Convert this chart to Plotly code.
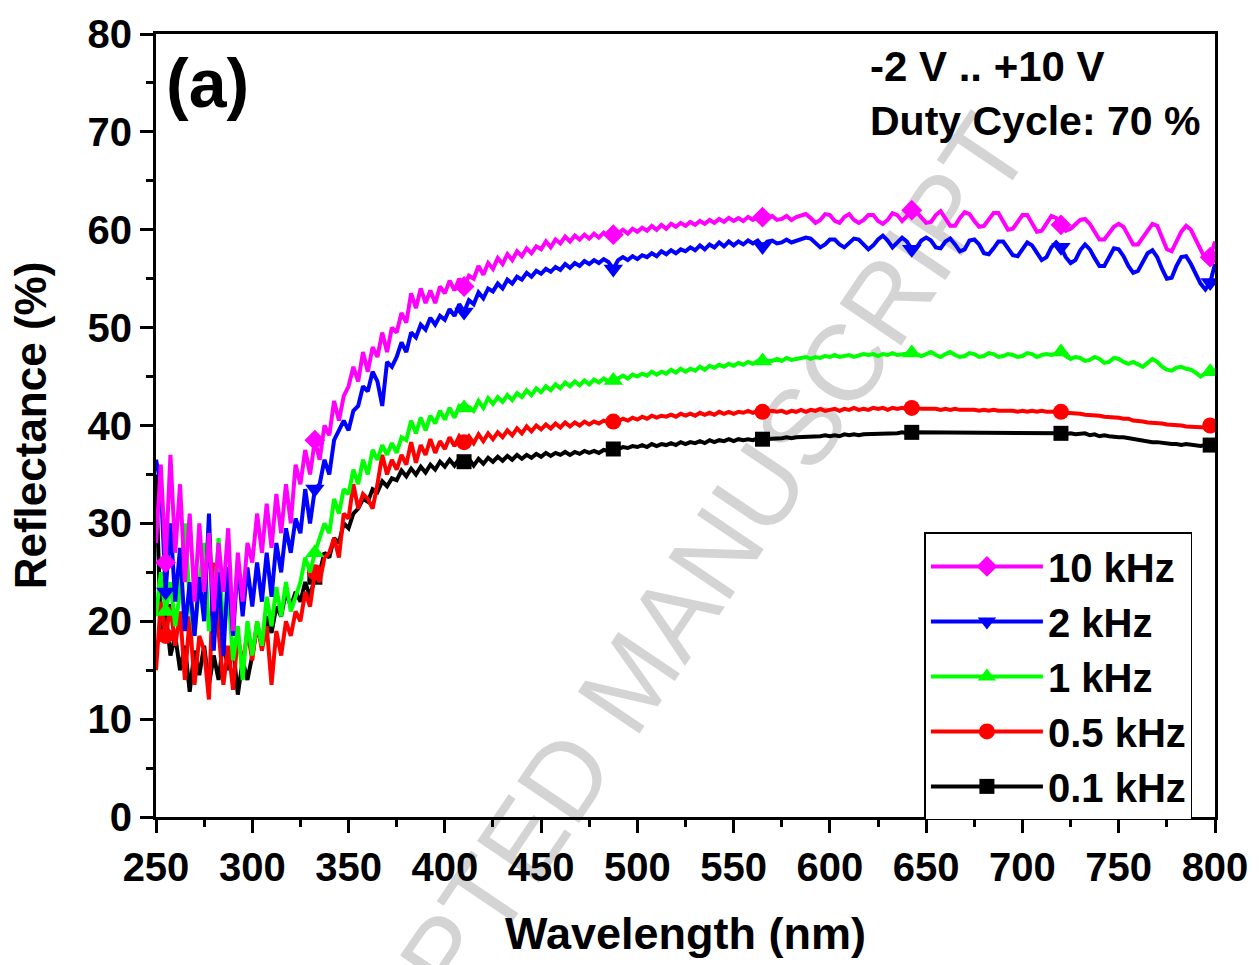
import numpy as np
import plotly.graph_objects as go

# Wavelength sampling grid (nm)
wavelength = np.arange(250, 800.01, 2.5)

series_names = ["0.1 kHz", "0.5 kHz", "1 kHz", "2 kHz", "10 kHz"]

r_0p1k = [
    35, 19, 21, 16.5, 18.5, 15, 17.5, 12.8, 17, 14.5,
    17.5, 13.5, 16.5, 14, 18, 15, 17.5, 12.5, 16, 14,
    16.5, 19.5, 17.5, 20.5, 18.8, 21.5, 20.5, 23, 21.5, 23,
    22, 24, 22.5, 24.5, 25, 27, 26.5, 28.5, 28, 30,
    29.5, 31, 31.5, 32.5, 32.2, 33.5, 33.2, 34.3, 33.8, 34.6,
    34.4, 35.4, 34.8, 35.6, 35.0, 35.8, 35.2, 36.0, 35.5, 36.3,
    35.8, 36.5, 35.9, 36.6, 36.3, 36.6, 35.9, 36.6, 36.1, 36.7,
    36.3, 36.8, 36.4, 36.9, 36.5, 37.0, 36.6, 37.0, 36.7, 37.1,
    36.8, 37.2, 36.9, 37.2, 37.0, 37.3, 37.0, 37.3, 37.1, 37.4,
    37.2, 37.4, 37.2, 37.5, 37.4, 37.6, 37.6, 37.8, 37.7, 37.9,
    37.8, 38.0, 37.8, 38.1, 37.9, 38.1, 38.0, 38.2, 38.0, 38.3,
    38.1, 38.3, 38.2, 38.4, 38.2, 38.5, 38.3, 38.5, 38.4, 38.6,
    38.4, 38.6, 38.5, 38.6, 38.5, 38.7, 38.6, 38.6, 38.7, 38.6,
    38.7, 38.8, 38.7, 38.8, 38.8, 38.9, 38.8, 38.9, 38.9, 39.0,
    38.9, 39.0, 38.9, 39.1, 39.0, 39.1, 39.0, 39.1, 39.1, 39.2,
    39.1, 39.2, 39.1, 39.2, 39.2, 39.3, 39.2, 39.3, 39.3, 39.2,
    39.3, 39.2, 39.3, 39.2, 39.3, 39.2, 39.3, 39.2, 39.3, 39.2,
    39.3, 39.2, 39.3, 39.3, 39.2, 39.3, 39.2, 39.3, 39.3, 39.2,
    39.3, 39.2, 39.3, 39.2, 39.2, 39.3, 39.2, 39.2, 39.2, 39.1,
    39.2, 39.1, 39.1, 39.2, 39.0, 39.1, 38.9, 39.0, 38.9, 38.8,
    38.8, 38.8, 38.7, 38.6, 38.6, 38.5, 38.4, 38.3, 38.3, 38.2,
    38.2, 38.1, 38.1, 38.0, 38.1, 38.0, 38.0, 37.9, 38.0, 38.0,
    37.9,
]

r_0p5k = [
    15, 22, 18.5, 21.5, 17.5, 21, 14, 20.5, 13.5, 18.5,
    17, 12, 26, 19, 13.5, 17.5, 13, 18.5, 15.5, 19,
    16, 20, 17, 19.5, 13.5, 19, 16.5, 20, 18.5, 21,
    20, 23, 21.5, 25, 24, 26.5, 27, 28.5, 26.5, 31,
    30.5, 34, 31.5, 33, 32.5, 31.5, 34, 37, 35, 36.5,
    35.5, 37.0, 36.0, 38.3, 36.2, 38.0, 37.0, 38.6, 37.2, 38.4,
    37.6, 38.8, 37.9, 38.9, 38.3, 38.9, 38.2, 39.1, 38.4, 39.2,
    38.6, 39.3, 38.8, 39.5, 39.0, 39.7, 39.2, 39.9, 39.4, 40.0,
    39.6, 40.1, 39.7, 40.2, 39.8, 40.3, 39.9, 40.3, 40.0, 40.4,
    40.1, 40.4, 40.2, 40.5, 40.3, 40.4, 40.4, 40.7, 40.5, 40.8,
    40.6, 40.9, 40.7, 41.0, 40.8, 41.0, 40.9, 41.1, 40.9, 41.2,
    41.0, 41.2, 41.0, 41.3, 41.1, 41.3, 41.1, 41.4, 41.2, 41.4,
    41.2, 41.4, 41.3, 41.5, 41.3, 41.5, 41.4, 41.4, 41.5, 41.4,
    41.5, 41.3, 41.5, 41.4, 41.6, 41.4, 41.6, 41.5, 41.7, 41.5,
    41.6, 41.7, 41.5, 41.7, 41.6, 41.8, 41.6, 41.7, 41.6, 41.8,
    41.7, 41.8, 41.6, 41.8, 41.7, 41.8, 41.7, 41.8, 41.8, 41.7,
    41.7, 41.8, 41.7, 41.6, 41.7, 41.6, 41.7, 41.6, 41.6, 41.7,
    41.6, 41.5, 41.6, 41.5, 41.6, 41.5, 41.5, 41.6, 41.5, 41.4,
    41.5, 41.4, 41.5, 41.4, 41.5, 41.4, 41.4, 41.5, 41.4, 41.3,
    41.3, 41.2, 41.2, 41.1, 41.1, 41.0, 41.0, 40.9, 40.9, 40.8,
    40.8, 40.7, 40.7, 40.5, 40.5, 40.4, 40.3, 40.3, 40.2, 40.2,
    40.1, 40.1, 40.0, 40.0, 39.9, 39.9, 39.8, 39.9, 39.8, 40.0,
    40.0,
]

r_1k = [
    20.5, 25, 21, 24, 19.5, 23, 30, 22, 18.5, 24,
    28, 19, 21, 28.5, 18.5, 23, 16, 19.5, 14, 20,
    16.5, 20, 17.5, 22.5, 19.5, 23.5, 20.5, 24, 21, 22.5,
    24, 26.5, 25, 27, 28.5, 30, 29, 32.5, 31, 33.5,
    33, 35.5, 34, 36.5, 35, 37.5, 36.5, 38, 37, 38.2,
    37.2, 38.8, 38.5, 40.5, 39.2, 40.8, 39.5, 41.0, 40.2, 41.5,
    40.6, 41.8, 40.8, 42.0, 41.8, 41.9, 41.5, 42.5, 41.8, 42.8,
    42.2, 42.9, 42.4, 43.1, 42.6, 43.3, 42.9, 43.6, 43.1, 43.8,
    43.4, 44.0, 43.6, 44.2, 43.8, 44.4, 44.0, 44.5, 44.1, 44.6,
    44.2, 44.7, 44.4, 44.8, 44.5, 44.6, 44.8, 45.1, 44.8, 45.2,
    45.0, 45.3, 45.1, 45.5, 45.2, 45.5, 45.3, 45.7, 45.4, 45.8,
    45.5, 45.8, 45.6, 46.0, 45.7, 46.1, 45.9, 46.2, 46.0, 46.3,
    46.1, 46.4, 46.2, 46.5, 46.3, 46.6, 46.6, 46.5, 46.6, 46.8,
    46.6, 46.9, 46.7, 46.8, 46.9, 47.0, 46.8, 47.0, 46.9, 47.1,
    47.0, 47.2, 47.0, 47.1, 47.2, 47.0, 47.1, 47.3, 47.2, 47.3,
    47.1, 47.3, 47.2, 47.4, 47.2, 47.3, 47.4, 47.4, 47.3, 47.1,
    47.3, 47.5, 47.2, 47.0, 47.3, 47.5, 47.2, 47.0, 47.1, 47.4,
    47.3, 47.0, 47.1, 47.4, 47.3, 47.0, 47.1, 47.3, 47.2, 47.0,
    47.1, 47.4, 47.3, 47.0, 47.2, 47.3, 47.2, 47.4, 47.5, 47.1,
    46.8, 47.0, 46.9, 46.6, 46.7, 47.0, 46.8, 46.4, 46.5, 46.9,
    46.8, 46.5, 46.3, 46.5, 46.2, 46.0, 46.4, 46.8, 46.5, 46.0,
    45.7, 45.6, 45.9, 46.0, 45.8, 45.7, 45.4, 45.0, 45.3, 45.5,
    45.7,
]

r_2k = [
    36.5, 34, 23, 30, 22, 27.5, 19, 24, 18.5, 24.5,
    20, 31, 17, 25, 16.5, 25.5, 18.5, 26, 20.5, 25.5,
    21.5, 26, 22, 27, 22.5, 28, 25, 29.5, 27, 30.5,
    29, 33.5, 30, 33.5, 34, 36.5, 35, 38.5, 39.5, 40.5,
    39.5, 41.5, 42, 44, 43.5, 45.5, 44.5, 42, 46.5, 46,
    47, 48.5, 47.5, 49.5, 49, 50.3, 49.8, 51, 50.3, 51.2,
    50.8, 51.9, 51.2, 52.4, 51.6, 52.8, 52.4, 53.6, 53.0, 54.0,
    53.7, 54.5, 54.0, 54.9, 54.5, 55.2, 54.9, 55.6, 55.2, 55.8,
    55.5, 56.0, 55.7, 56.2, 55.9, 56.5, 56.1, 56.6, 56.3, 56.8,
    56.5, 56.9, 56.6, 57.0, 56.7, 56.0, 56.9, 57.2, 56.9, 57.3,
    57.0, 57.4, 57.2, 57.6, 57.3, 57.8, 57.5, 57.9, 57.6, 58.0,
    57.8, 58.2, 57.9, 58.4, 58.0, 58.5, 58.2, 58.7, 58.3, 58.8,
    58.4, 58.8, 58.5, 58.9, 58.6, 58.9, 58.3, 58.8, 58.9, 58.6,
    58.7, 59.0, 58.7, 58.9, 59.0, 59.2, 59.1, 58.6, 58.2, 58.5,
    59.0, 59.0, 58.5, 58.2, 58.6, 59.1, 59.0, 58.5, 58.0, 58.4,
    59.0, 59.4, 58.9, 58.2, 58.7, 59.2, 58.8, 58.0, 58.2, 58.9,
    59.2, 58.9, 58.2, 58.1, 58.8, 59.1, 58.5, 57.8, 58.0, 58.9,
    59.0, 58.5, 57.6, 57.5, 58.1, 58.8, 58.8, 58.1, 57.4, 57.3,
    58.0, 58.7, 58.4, 57.6, 56.9, 57.2, 58.2, 58.7, 58.2, 57.2,
    56.6, 56.9, 57.9, 58.5, 58.0, 57.1, 56.3, 56.3, 57.2, 58.1,
    58.0, 57.3, 56.3, 55.6, 55.8, 56.8, 57.6, 57.9, 57.2, 56.0,
    55.0, 55.1, 56.3, 57.2, 57.3, 56.5, 55.4, 54.5, 53.9, 54.6,
    56.5,
]

r_10k = [
    28, 36, 26, 37, 27, 34, 24, 31, 22, 30,
    23, 29, 21, 28, 23, 29.5, 19, 27, 22, 28,
    26, 31, 27, 32, 27.5, 33, 29, 34, 30, 36,
    34, 37.5, 35, 38.5, 36.5, 40, 39, 42.5, 40.5, 43,
    44, 46, 44.5, 47.5, 45.5, 48, 47, 49.5, 47.5, 50,
    49.5, 51.5, 50.5, 53.5, 52, 54, 52.5, 53.8, 52.5, 54.2,
    53.5, 54.8, 53.8, 55, 54.2, 55.3, 55, 56.3, 55.4, 56.6,
    56, 57.1, 56.5, 57.5, 56.9, 57.8, 57.3, 58.1, 57.6, 58.3,
    58, 58.8, 58.2, 59.0, 58.6, 59.3, 58.8, 59.4, 59.0, 59.5,
    59.1, 59.6, 59.2, 59.7, 59.3, 59.5, 59.6, 60.0, 59.6, 60.1,
    59.8, 60.2, 59.9, 60.4, 60.0, 60.5, 60.1, 60.6, 60.3, 60.7,
    60.4, 60.8, 60.5, 60.9, 60.6, 61.0, 60.7, 61.1, 60.8, 61.2,
    60.9, 61.2, 60.9, 61.3, 61.0, 61.3, 61.3, 61.1, 61.4, 61.0,
    61.1, 61.4, 61.0, 61.3, 61.4, 61.6, 61.2, 60.7, 61.0, 61.6,
    61.5, 60.9, 60.7, 61.3, 61.6, 61.0, 60.7, 61.0, 61.5, 61.5,
    60.9, 60.6, 61.0, 61.7, 61.5, 60.9, 61.4, 62.0, 61.8, 61.2,
    60.7, 60.8, 61.5, 61.9, 61.2, 60.4, 60.4, 61.2, 61.8, 61.6,
    60.9, 60.3, 60.4, 61.0, 61.7, 61.7, 60.8, 60.0, 60.1, 60.8,
    61.5, 61.5, 60.6, 59.8, 59.9, 60.7, 61.4, 61.2, 60.5, 59.9,
    60.1, 60.6, 61.0, 61.1, 60.6, 59.8, 59.0, 59.0, 59.6, 60.3,
    60.6, 60.3, 59.4, 58.5, 58.5, 59.2, 60.0, 60.6, 60.4, 59.3,
    58.0, 57.8, 58.7, 59.8, 60.4, 60.0, 59.0, 57.9, 57.0, 57.2,
    58.8,
]

series_values = [r_0p1k, r_0p5k, r_1k, r_2k, r_10k]
series_colors = ["#000000", "#FF0000", "#00FF00", "#0000FF", "#FF00FF"]
series_symbols = ["square", "circle", "triangle-up", "triangle-down", "diamond"]
series_msize = [15, 16, 17, 17, 16]
marker_idx = [2, 33, 64, 95, 126, 157, 188, 219]

FONT = "Liberation Sans, Arial, sans-serif"

fig = go.Figure()
for name, vals, col, sym, ms in zip(series_names, series_values, series_colors,
                                    series_symbols, series_msize):
    fig.add_trace(go.Scatter(
        x=wavelength, y=vals, name=name, mode="lines+markers",
        line=dict(color=col, width=4),
        marker=dict(symbol=sym, size=ms, color=col, line=dict(width=0)),
        selectedpoints=marker_idx,
        selected=dict(marker=dict(opacity=1)),
        unselected=dict(marker=dict(opacity=0)),
    ))

axis_common = dict(
    showline=True, linecolor="black", linewidth=3, mirror=True,
    ticks="outside", ticklen=13, tickwidth=3, tickcolor="black",
    showgrid=False, zeroline=False,
    tickfont=dict(family=FONT, size=40, color="black", weight="bold"),
)

fig.update_xaxes(
    range=[250, 800], dtick=50, tick0=250,
    minor=dict(dtick=25, ticklen=7, tickwidth=3, tickcolor="black", ticks="outside"),
    title=dict(text="Wavelength (nm)", standoff=30,
               font=dict(family=FONT, size=45, color="black", weight="bold")),
    **axis_common,
)
fig.update_yaxes(
    range=[0, 80], dtick=10, tick0=0,
    minor=dict(dtick=5, ticklen=7, tickwidth=3, tickcolor="black", ticks="outside"),
    title=dict(text="Reflectance (%)", standoff=28,
               font=dict(family=FONT, size=44, color="black", weight="bold")),
    **axis_common,
)

fig.update_layout(
    width=1260, height=965,
    margin=dict(l=156, r=38, t=33, b=148),
    paper_bgcolor="white", plot_bgcolor="rgba(0,0,0,0)",
    font=dict(family=FONT, color="black"),
    showlegend=True,
    legend=dict(
        x=0.7256, y=0.3635, xanchor="left", yanchor="top",
        traceorder="reversed",
        bgcolor="white", bordercolor="black", borderwidth=1.5,
        font=dict(family=FONT, size=40, color="black", weight="bold"),
        itemwidth=112,
    ),
    annotations=[
        dict(text="(a)", xref="paper", yref="paper", x=0.008, y=0.938,
             xanchor="left", yanchor="middle", showarrow=False,
             font=dict(family=FONT, size=68, color="black", weight="bold")),
        dict(text="-2 V .. +10 V", xref="paper", yref="paper", x=0.672, y=0.958,
             xanchor="left", yanchor="middle", showarrow=False,
             font=dict(family=FONT, size=42, color="black", weight="bold")),
        dict(text="Duty Cycle: 70 %", xref="paper", yref="paper", x=0.672, y=0.889,
             xanchor="left", yanchor="middle", showarrow=False,
             font=dict(family=FONT, size=41, color="black", weight="bold")),
    ],
    shapes=[
        dict(type="line", xref="paper", yref="paper", layer="below",
             x0=0.335, y0=-0.03, x1=0.545, y1=0.394,
             line=dict(color="rgba(0,0,0,0)", width=0),
             label=dict(text="ACCEPTED MANUSCRIPT", textposition="middle",
                        textangle=-56, yanchor="middle",
                        font=dict(family=FONT, size=108, color="#d4d4d4"))),
    ],
)

fig.write_html("out.html")
